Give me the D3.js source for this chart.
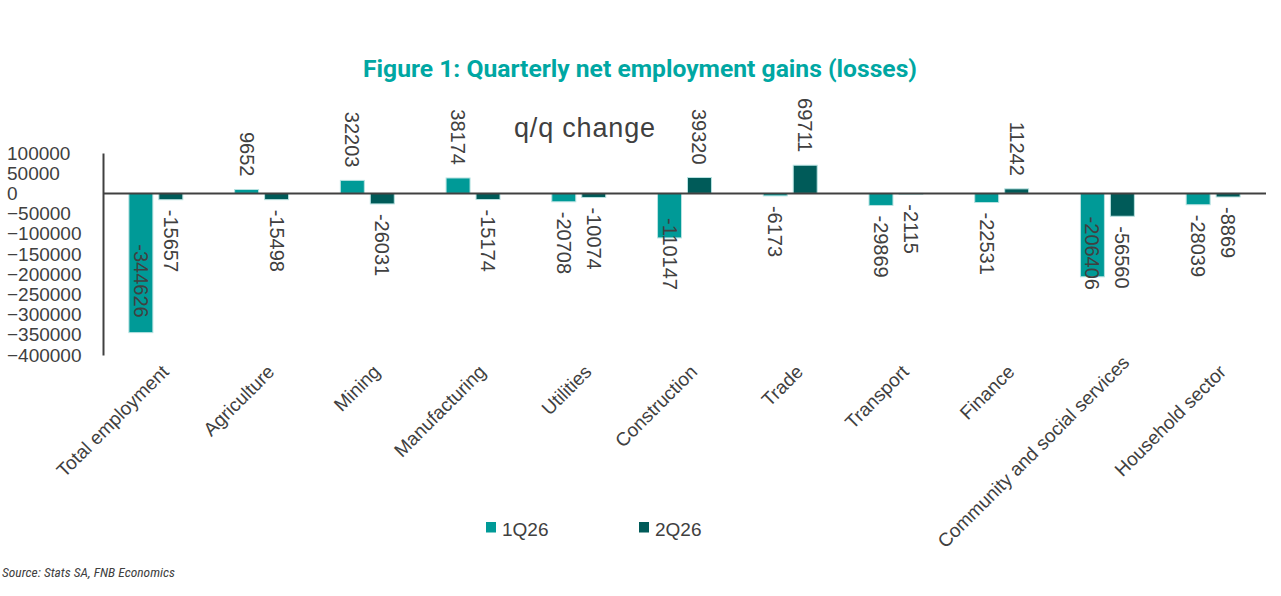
<!DOCTYPE html>
<html>
<head>
<meta charset="utf-8">
<script src="https://cdn.jsdelivr.net/npm/d3@7"></script>
<style>
  html, body { margin: 0; padding: 0; background: #fff; }
  svg { display: block; }
</style>
</head>
<body>
<svg id="chart" width="1281" height="596"></svg>
<script>
// chart data
var categories = ["Total employment", "Agriculture", "Mining", "Manufacturing", "Utilities",
  "Construction", "Trade", "Transport", "Finance", "Community and social services", "Household sector"];
var seriesNames = ["1Q26", "2Q26"];
var q1 = [-344626, 9652, 32203, 38174, -20708, -110147, -6173, -29869, -22531, -206406, -28039];
var q2 = [-15657, -15498, -26031, -15174, -10074, 39320, 69711, -2115, 11242, -56560, -8869];
var yTicks = [100000, 50000, 0, -50000, -100000, -150000, -200000, -250000, -300000, -350000, -400000];

var colors = { "1Q26": "#009a97", "2Q26": "#005b59" };
var textColor = "#404040";
var font = "'Liberation Sans', Arial, sans-serif";

var svg = d3.select("#chart");
svg.append("rect").attr("width", 1281).attr("height", 596).attr("fill", "#fff");

// scales
var x0 = d3.scaleBand()
  .domain(categories)
  .range([103, 1266])
  .paddingInner(0.49)
  .paddingOuter(0.245);

var x1 = d3.scaleBand()
  .domain(seriesNames)
  .range([0, x0.bandwidth()])
  .paddingInner(0.2)
  .paddingOuter(0);

var y = d3.scaleLinear()
  .domain([-400000, 100000])
  .range([355, 153]);

// title + subtitle
svg.append("text")
  .attr("x", 363).attr("y", 76.7)
  .attr("textLength", 554).attr("lengthAdjust", "spacingAndGlyphs")
  .attr("font-family", "Roboto, 'Open Sans', sans-serif")
  .attr("font-weight", "bold")
  .attr("font-size", 23)
  .attr("fill", "#00a7a3")
  .text("Figure 1: Quarterly net employment gains (losses)");

svg.append("text")
  .attr("x", 514).attr("y", 136.7)
  .attr("textLength", 141).attr("lengthAdjust", "spacing")
  .attr("font-family", font)
  .attr("font-size", 27)
  .attr("fill", textColor)
  .text("q/q change");

// y axis
var yAxis = svg.append("g")
  .attr("transform", "translate(103,0)")
  .call(d3.axisLeft(y).tickValues(yTicks).tickSize(0).tickSizeOuter(0).tickFormat(d3.format("d")));

yAxis.select(".domain").attr("stroke", textColor).attr("stroke-width", 2);
yAxis.selectAll("text")
  .attr("x", -96)
  .attr("text-anchor", "start")
  .attr("font-family", font)
  .attr("font-size", 19)
  .attr("fill", textColor);

// bars
var rows = categories.map(function (c, i) {
  return { cat: c, values: [{ s: "1Q26", v: q1[i] }, { s: "2Q26", v: q2[i] }] };
});

var groups = svg.append("g").selectAll("g")
  .data(rows)
  .enter().append("g")
  .attr("transform", function (d) { return "translate(" + x0(d.cat) + ",0)"; });

groups.selectAll("rect")
  .data(function (d) { return d.values; })
  .enter().append("rect")
  .attr("x", function (d) { return x1(d.s); })
  .attr("y", function (d) { return y(Math.max(0, d.v)); })
  .attr("width", x1.bandwidth())
  .attr("height", function (d) { return Math.abs(y(d.v) - y(0)); })
  .attr("fill", function (d) { return colors[d.s]; })
  .attr("stroke", "#b8e2e1")
  .attr("stroke-width", 1);

// zero line
svg.append("line")
  .attr("x1", 103).attr("x2", 1266)
  .attr("y1", y(0)).attr("y2", y(0))
  .attr("stroke", textColor)
  .attr("stroke-width", 2);

// data labels, rotated
groups.selectAll("text.val")
  .data(function (d) { return d.values; })
  .enter().append("text")
  .attr("class", "val")
  .attr("font-family", font)
  .attr("font-size", 20)
  .attr("fill", textColor)
  .attr("dy", "0.35em")
  .text(function (d) { return d.v; })
  .each(function (d) {
    var t = d3.select(this);
    var cx = x1(d.s) + x1.bandwidth() / 2;
    var len = this.getComputedTextLength();
    var pos;
    if (d.v >= 0) {
      pos = y(d.v) - 13 - len;
    } else {
      pos = y(d.v) + 10;
      var limit = Math.max(290, y(d.v) - 15);
      if (pos + len > limit) pos = limit - len;
    }
    t.attr("transform", "translate(" + cx + "," + pos + ") rotate(90)");
  });

// category labels (long ones get pushed up the diagonal so they stay clear of the bottom)
svg.append("g").selectAll("text")
  .data(categories)
  .enter().append("text")
  .attr("text-anchor", "end")
  .attr("font-family", font)
  .attr("font-size", 19)
  .attr("fill", textColor)
  .text(function (d) { return d; })
  .each(function (d) {
    var len = this.getComputedTextLength() * Math.SQRT1_2;
    var over = Math.max(0, 373 + len - 549);
    var px = x0(d) + x0.bandwidth() / 2 + 14 + over;
    var py = 373 - over;
    d3.select(this).attr("transform", "translate(" + px + "," + py + ") rotate(-45)");
  });

// legend
var legendX = [486, 639];
var legend = svg.append("g").selectAll("g")
  .data(seriesNames)
  .enter().append("g")
  .attr("transform", function (d, i) { return "translate(" + legendX[i] + ",522)"; });

legend.append("rect")
  .attr("width", 10).attr("height", 10.5)
  .attr("fill", function (d) { return colors[d]; });

legend.append("text")
  .attr("x", 16).attr("y", 13.7)
  .attr("font-family", font)
  .attr("font-size", 19)
  .attr("fill", textColor)
  .text(function (d) { return d; });

// source
svg.append("text")
  .attr("x", 2).attr("y", 577)
  .attr("textLength", 173).attr("lengthAdjust", "spacingAndGlyphs")
  .attr("font-family", "'Liberation Sans Narrow', 'Roboto Condensed', 'Liberation Sans', sans-serif")
  .attr("font-style", "italic")
  .attr("font-size", 12.5)
  .attr("fill", textColor)
  .text("Source: Stats SA, FNB Economics");
</script>
</body>
</html>
